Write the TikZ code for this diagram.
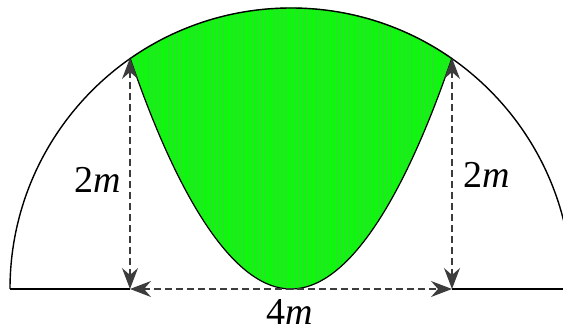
\documentclass[tikz,border=0pt]{standalone}
\usepackage{fontspec}
\setmainfont{Liberation Serif}
\usetikzlibrary{arrows.meta}
\definecolor{arrowgray}{HTML}{3C3C3C}
\definecolor{fillgreen}{RGB}{10,250,10}
\definecolor{stripegreen}{RGB}{40,228,40}
\tikzset{
  tipshape/.tip={Stealth[length=21pt,width=16pt,inset=7pt]},
  dim/.style={draw=arrowgray, line width=1.3pt, dash pattern=on 7pt off 4pt,
    tipshape-tipshape},
  outline/.style={draw=black, line width=1.4pt},
  lbl/.style={font=\fontsize{38}{40}\selectfont, anchor=base, inner sep=0pt}
}
\begin{document}
\begin{tikzpicture}[x=1pt,y=1pt]
\useasboundingbox (0,0) rectangle (563,332);
\clip (0,0) rectangle (563,332);
\coordinate (O) at (291,43);
\coordinate (E) at (10,43);
\coordinate (F) at (563,43);
\coordinate (L) at (130,43);
\coordinate (R) at (452,43);
\coordinate (TL) at (130,274);
\coordinate (TR) at (452,274);
% green region
\begin{scope}
  \clip (TL) parabola bend (O) (TR) arc[start angle=55.13, end angle=124.87, radius=281];
  \fill[fillgreen] (100,0) rectangle (480,332);
  \foreach \i in {0,...,80} {
    \fill[stripegreen] (130+\i*4.2,0) rectangle (131.8+\i*4.2,332);
  }
\end{scope}
\draw[line width=1.2pt] (TL) parabola bend (O) (TR);
% circle
\draw[outline] (E) arc[start angle=180, end angle=0, radius=281];
% baseline
\draw[outline] (E) -- (L);
\draw[outline] (R) -- (F);
% dimension arrows
\draw[dim] (L) -- (TL);
\draw[dim] (R) -- (TR);
\draw[dim] (L) -- (R);
% labels
\node[lbl] (l1) at (98,139) {2\textit{m}};
\node[lbl] (l2) at (487,144) {2\textit{m}};
\node[lbl] (l3) at (290,7) {4\textit{m}};
\end{tikzpicture}
\end{document}
